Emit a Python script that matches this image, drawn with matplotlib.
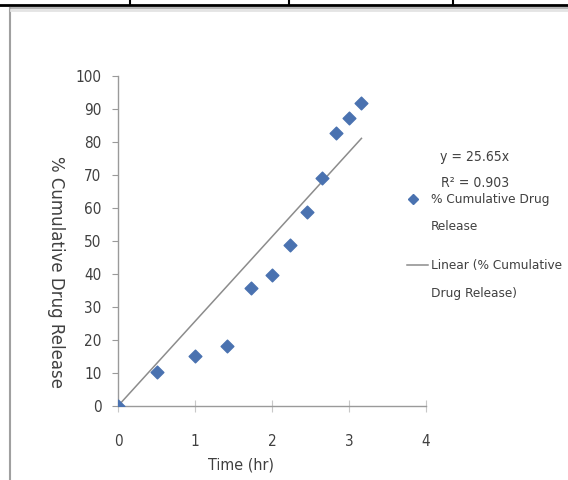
import matplotlib.pyplot as plt
from matplotlib.lines import Line2D
from matplotlib import font_manager

# data (x looks like sqrt of time)
time_hr = [0, 0.5, 1.0, 1.414, 1.732, 2.0, 2.236, 2.449, 2.646, 2.828, 3.0, 3.162]
release = [0, 10.2, 15.3, 18.2, 35.8, 39.7, 48.9, 58.9, 69.0, 82.7, 87.4, 91.8]
slope = 25.65
r2 = 0.903
yticks = [0, 10, 20, 30, 40, 50, 60, 70, 80, 90, 100]
xticks = [0, 1, 2, 3, 4]
scatter_label = '% Cumulative Drug\nRelease'
line_label = 'Linear (% Cumulative\nDrug Release)'

# look for a condensed face, Calibri-ish
cond = None
for f in font_manager.fontManager.ttflist:
    fn = f.fname.lower()
    if ('condensed' in fn or 'narrow' in fn) and 'bold' not in fn and 'italic' not in fn \
            and 'oblique' not in fn and 'light' not in fn:
        cond = f.fname
        break
if cond:
    nf = font_manager.FontProperties(fname=cond)
else:
    nf = font_manager.FontProperties(family='DejaVu Sans')

W, H = 568, 480
fig = plt.figure(figsize=(W / 100, H / 100), dpi=100)
fig.patch.set_facecolor('white')
tf = fig.transFigure
txt = '#404040'

def px(x, y):
    return x / W, 1 - y / H

def ntext(x, y, s, size, **kw):
    p = nf.copy()
    p.set_size(size)
    return fig.text(*px(x, y), s, fontproperties=p, color=txt, **kw)

# table border bits at the top of the scan
fig.add_artist(Line2D([0, 1], [1 - 5 / H] * 2, color='black', lw=2, transform=tf))
for xv in [130, 289, 453]:
    fig.add_artist(Line2D([xv / W] * 2, [1, 1 - 5 / H], color='black', lw=1.5, transform=tf))
# chart frame
fig.add_artist(Line2D([9.5 / W] * 2, [0, 1 - 8 / H], color='#a0a0a0', lw=1.5, transform=tf))
fig.add_artist(Line2D([9.5 / W, 1], [1 - 8 / H] * 2, color='#a8a8a8', lw=1.2, transform=tf))
fig.add_artist(Line2D([11 / W, 1], [1 - 10 / H] * 2, color='#e4e4e4', lw=2, transform=tf))

ax = fig.add_axes([118 / W, 1 - 406 / H, (426 - 118) / W, (406 - 76) / H])
ax.set_facecolor('none')

ax.scatter(time_hr, release, marker='D', s=42, color='#4a72b0', zorder=3)
fit_x = [0, max(time_hr)]
ax.plot(fit_x, [slope * v for v in fit_x], color='#8c8c8c', lw=1.1)

ax.set_xlim(0, 4)
ax.set_ylim(0, 100)
ax.set_xticks(xticks)
ax.set_yticks(yticks)
for s in ['top', 'right']:
    ax.spines[s].set_visible(False)
for s in ['left', 'bottom']:
    ax.spines[s].set_color('#9a9a9a')
    ax.spines[s].set_linewidth(1.0)
ax.tick_params(axis='both', colors='#9a9a9a', labelcolor=txt, length=4)
ax.tick_params(axis='x', direction='inout', pad=16, length=8, colors='#c8c8c8', labelcolor=txt)
ax.tick_params(axis='y', pad=8)
tp = nf.copy()
tp.set_size(11)
for lab in ax.get_xticklabels() + ax.get_yticklabels():
    lab.set_fontproperties(tp)

ntext(241, 465, 'Time (hr)', 11.5, ha='center', va='center')
fig.text(*px(56, 272), '% Cumulative Drug Release', fontsize=12, color=txt,
         rotation=-90, ha='center', va='center')

ntext(475, 157, f'y = {slope}x', 10, ha='center', va='center')
ntext(475, 183, f'R² = {r2}', 10, ha='center', va='center')

# legend
fig.add_artist(Line2D([413 / W], [1 - 199 / H], marker='D', ms=5, color='#4a72b0', transform=tf))
fig.add_artist(Line2D([407 / W, 428 / W], [1 - 265 / H] * 2, color='#8c8c8c', lw=1.1, transform=tf))
ntext(431, 213, scatter_label, 9.7, ha='left', va='center', linespacing=2.5)
ntext(431, 280, line_label, 9.7, ha='left', va='center', linespacing=2.5)

fig.savefig('out.png', dpi=100)
